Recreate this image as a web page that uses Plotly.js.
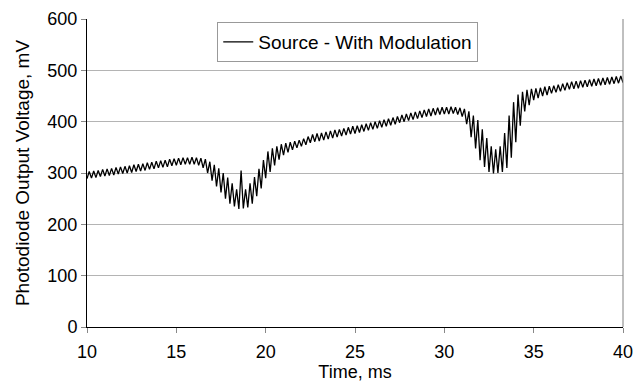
<!DOCTYPE html>
<html>
<head>
<meta charset="utf-8">
<script src="https://cdn.plot.ly/plotly-3.0.1.min.js"></script>
<style>html,body{margin:0;padding:0;background:#fff;}#chart{width:635px;height:383px;}</style>
</head>
<body>
<div id="chart"></div>
<script>
// Sample timing of the recorded extremes (ms)
const startTime = 10;
const sampleStep = 0.125;
// Photodiode output voltage (mV), alternating trough / crest
const voltage = [
  289, 303, 290, 304, 291, 305, 293, 307,
  294, 308, 295, 309, 296, 311, 298, 312,
  299, 313, 300, 314, 301, 316, 303, 317,
  304, 318, 305, 320, 307, 321, 308, 323,
  310, 324, 311, 325, 312, 327, 314, 328,
  315, 329, 316, 330, 317, 330, 317, 331,
  317, 330, 315, 329, 310, 327, 300, 322,
  285, 316, 274, 309, 262, 300, 250, 291,
  240, 280, 235, 268, 230, 305, 231, 268,
  233, 280, 240, 292, 255, 308, 270, 325,
  290, 342, 302, 348, 315, 352, 326, 356,
  335, 358, 340, 360, 345, 362, 349, 364,
  352, 367, 355, 371, 359, 375, 361, 377,
  362, 378, 364, 380, 366, 382, 368, 384,
  370, 385, 372, 387, 374, 389, 376, 391,
  377, 392, 379, 394, 381, 396, 383, 398,
  385, 400, 387, 402, 389, 404, 391, 406,
  393, 408, 395, 410, 398, 413, 400, 415,
  402, 417, 404, 419, 406, 421, 408, 423,
  410, 425, 411, 426, 413, 427, 414, 428,
  415, 428, 415, 429, 416, 428, 414, 427,
  410, 425, 395, 420, 370, 412, 348, 403,
  325, 385, 312, 368, 302, 352, 299, 346,
  300, 352, 302, 378, 310, 412, 330, 438,
  360, 453, 392, 458, 420, 462, 432, 464,
  442, 465, 446, 466, 450, 468, 452, 469,
  455, 470, 457, 472, 459, 474, 461, 476,
  463, 478, 464, 479, 465, 480, 467, 481,
  468, 482, 469, 483, 470, 484, 471, 485,
  472, 486, 473, 487, 474, 488, 475, 489, 476
];
const seriesName = 'Source - With Modulation';
const xTicks = [10, 15, 20, 25, 30, 35, 40];
const yTicks = [0, 100, 200, 300, 400, 500, 600];

const time = voltage.map((_, i) => startTime + i * sampleStep);

const fam = '"Liberation Sans", Arial, sans-serif';
const tickFont = {family: fam, size: 18, color: '#000'};
const xTitleFont = {family: fam, size: 18, color: '#000'};
const yTitleFont = {family: fam, size: 19, color: '#000'};
const legendFont = {family: fam, size: 19, color: '#000'};

const trace = {
  x: time, y: voltage, type: 'scatter', mode: 'lines', name: seriesName,
  line: {color: '#000', width: 1.3}, showlegend: true
};

const layout = {
  width: 635, height: 383,
  margin: {l: 87, r: 12, t: 19, b: 56, pad: 0},
  paper_bgcolor: '#fff', plot_bgcolor: '#fff',
  font: tickFont,
  showlegend: true,
  legend: {
    x: 0.243, y: 0.99, xanchor: 'left', yanchor: 'top',
    bgcolor: '#fff', bordercolor: '#999', borderwidth: 1,
    font: legendFont, itemwidth: 30, tracegroupgap: 0
  },
  xaxis: {
    range: [10, 40], tickvals: xTicks, ticktext: xTicks.map(String),
    showgrid: false, zeroline: false,
    showline: true, linecolor: '#000', linewidth: 1, mirror: false,
    ticks: 'outside', ticklen: 5, tickcolor: '#888', tickwidth: 1,
    ticklabelstandoff: 3,
    tickfont: tickFont,
    title: {text: 'Time, ms', font: xTitleFont, standoff: 0}
  },
  yaxis: {
    range: [0, 600], tickvals: yTicks, ticktext: yTicks.map(String),
    showgrid: true, gridcolor: '#b4b4b4', gridwidth: 1, zeroline: false,
    showline: true, linecolor: '#000', linewidth: 1,
    ticks: 'outside', ticklen: 5, tickcolor: '#888', tickwidth: 1,
    tickfont: tickFont,
    title: {text: 'Photodiode Output Voltage, mV', font: yTitleFont, standoff: 12}
  },
  shapes: [
    {type: 'line', xref: 'paper', yref: 'paper', x0: 1, x1: 1, y0: 0, y1: 1,
     line: {color: '#808080', width: 1}}
  ]
};

Plotly.newPlot('chart', [trace], layout, {staticPlot: true, displayModeBar: false});
</script>
</body>
</html>
